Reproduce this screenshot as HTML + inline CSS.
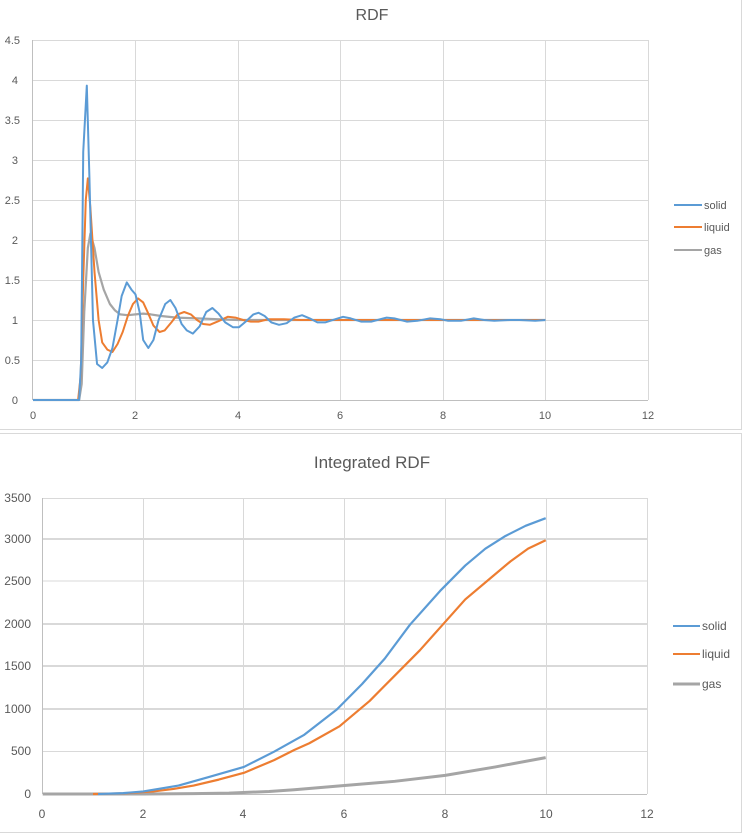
<!DOCTYPE html>
<html><head><meta charset="utf-8"><style>
html,body{margin:0;padding:0;background:#fff;width:744px;height:834px;overflow:hidden}
svg{display:block}
text{font-family:"Liberation Sans Narrow","Liberation Sans",sans-serif;fill:#595959}
</style></head><body>
<svg width="744" height="834" viewBox="0 0 744 834">
<rect x="0" y="0" width="744" height="834" fill="#fff"/>
<!-- chart borders -->
<line x1="0" y1="429.5" x2="742" y2="429.5" stroke="#d9d9d9"/>
<line x1="741.5" y1="0" x2="741.5" y2="429.5" stroke="#d9d9d9"/>
<line x1="0" y1="433.5" x2="742" y2="433.5" stroke="#d9d9d9"/>
<line x1="741.5" y1="433.5" x2="741.5" y2="833" stroke="#d9d9d9"/>
<line x1="0" y1="832.5" x2="742" y2="832.5" stroke="#d9d9d9"/>

<!-- ===== RDF ===== -->
<text x="372" y="20" font-size="16" text-anchor="middle">RDF</text>
<g stroke="#d9d9d9" stroke-width="1">
<line x1="33" y1="40.5" x2="648" y2="40.5"/><line x1="33" y1="80.5" x2="648" y2="80.5"/>
<line x1="33" y1="120.5" x2="648" y2="120.5"/><line x1="33" y1="160.5" x2="648" y2="160.5"/>
<line x1="33" y1="200.5" x2="648" y2="200.5"/><line x1="33" y1="240.5" x2="648" y2="240.5"/>
<line x1="33" y1="280.5" x2="648" y2="280.5"/><line x1="33" y1="320.5" x2="648" y2="320.5"/>
<line x1="33" y1="360.5" x2="648" y2="360.5"/>
<line x1="135.5" y1="40" x2="135.5" y2="400"/><line x1="238.5" y1="40" x2="238.5" y2="400"/>
<line x1="340.5" y1="40" x2="340.5" y2="400"/><line x1="443.5" y1="40" x2="443.5" y2="400"/>
<line x1="545.5" y1="40" x2="545.5" y2="400"/><line x1="648.5" y1="40" x2="648.5" y2="400"/>
</g>
<line x1="33" y1="400.5" x2="648" y2="400.5" stroke="#bfbfbf"/>
<line x1="32.5" y1="40" x2="32.5" y2="400" stroke="#bfbfbf"/>
<g font-size="11" text-anchor="end">
<text x="20" y="44">4.5</text><text x="18" y="84">4</text><text x="20" y="124">3.5</text>
<text x="18" y="164">3</text><text x="20" y="204">2.5</text><text x="18" y="244">2</text>
<text x="20" y="284">1.5</text><text x="18" y="324">1</text><text x="20" y="364">0.5</text>
<text x="18" y="404">0</text>
</g>
<g font-size="11" text-anchor="middle">
<text x="33" y="419">0</text><text x="135" y="419">2</text><text x="238" y="419">4</text>
<text x="340" y="419">6</text><text x="443" y="419">8</text><text x="545" y="419">10</text><text x="648" y="419">12</text>
</g>
<g transform="translate(33,400) scale(51.25,-80)" fill="none" stroke-linejoin="round">
<polyline vector-effect="non-scaling-stroke" stroke="#a5a5a5" stroke-width="2.2" points="0,0 0.9,0 0.95,0.2 1.0,1.1 1.07,1.9 1.12,2.08 1.2,1.9 1.28,1.6 1.38,1.38 1.5,1.2 1.6,1.12 1.7,1.07 1.85,1.06 2.0,1.07 2.15,1.08 2.3,1.07 2.5,1.05 2.8,1.03 3.2,1.02 3.6,1.01 4,1.0 10,1.0"/>
<polyline vector-effect="non-scaling-stroke" stroke="#ed7d31" stroke-width="2" points="0,0 0.88,0 0.93,0.3 0.98,1.5 1.03,2.5 1.07,2.77 1.12,2.4 1.2,1.6 1.28,1.0 1.35,0.72 1.45,0.63 1.55,0.6 1.65,0.7 1.75,0.85 1.85,1.05 1.95,1.2 2.05,1.27 2.15,1.22 2.25,1.08 2.35,0.93 2.47,0.85 2.57,0.87 2.7,0.97 2.82,1.07 2.95,1.1 3.08,1.07 3.2,1.0 3.32,0.95 3.45,0.94 3.6,0.98 3.8,1.04 3.95,1.03 4.1,1.0 4.25,0.98 4.4,0.98 4.6,1.01 4.9,1.01 5.2,1.0 5.6,1.0 6.2,1.0 10,1.0"/>
<polyline vector-effect="non-scaling-stroke" stroke="#5b9bd5" stroke-width="2" points="0,0 0.9,0 0.94,0.5 0.98,3.1 1.05,3.93 1.1,2.8 1.17,1.0 1.25,0.45 1.35,0.4 1.45,0.47 1.55,0.65 1.65,1.0 1.73,1.3 1.83,1.47 1.92,1.38 2.0,1.32 2.08,1.1 2.15,0.75 2.25,0.65 2.35,0.75 2.45,1.0 2.58,1.2 2.68,1.25 2.78,1.15 2.9,0.95 3.0,0.87 3.12,0.83 3.25,0.92 3.38,1.1 3.5,1.15 3.62,1.08 3.75,0.97 3.9,0.91 4.02,0.91 4.15,0.98 4.3,1.07 4.4,1.09 4.52,1.05 4.65,0.97 4.8,0.94 4.95,0.96 5.1,1.03 5.25,1.06 5.4,1.02 5.55,0.97 5.7,0.97 5.9,1.01 6.05,1.04 6.2,1.02 6.4,0.98 6.6,0.98 6.9,1.03 7.05,1.02 7.3,0.98 7.5,0.99 7.75,1.02 7.95,1.01 8.1,0.99 8.35,0.99 8.6,1.02 8.8,1.0 9.0,0.99 9.3,1.0 9.5,1.0 9.8,0.99 10,1.0"/>
</g>
<line x1="674" y1="205" x2="702" y2="205" stroke="#5b9bd5" stroke-width="2"/>
<line x1="674" y1="227" x2="702" y2="227" stroke="#ed7d31" stroke-width="2"/>
<line x1="674" y1="250" x2="702" y2="250" stroke="#a5a5a5" stroke-width="2"/>
<g font-size="11"><text x="704" y="209">solid</text><text x="704" y="231">liquid</text><text x="704" y="254">gas</text></g>

<!-- ===== Integrated RDF ===== -->
<text x="372" y="468" font-size="17" text-anchor="middle">Integrated RDF</text>
<g stroke="#d9d9d9">
<line x1="43" y1="498.5" x2="647" y2="498.5" stroke-width="1"/>
<line x1="43" y1="539" x2="647" y2="539" stroke-width="2"/>
<line x1="43" y1="581" x2="647" y2="581" stroke-width="1"/>
<line x1="43" y1="624" x2="647" y2="624" stroke-width="2"/>
<line x1="43" y1="666" x2="647" y2="666" stroke-width="2"/>
<line x1="43" y1="709" x2="647" y2="709" stroke-width="2"/>
<line x1="43" y1="751.5" x2="647" y2="751.5" stroke-width="1"/>
<line x1="143.5" y1="498" x2="143.5" y2="794"/><line x1="243.5" y1="498" x2="243.5" y2="794"/>
<line x1="344.5" y1="498" x2="344.5" y2="794"/><line x1="445.5" y1="498" x2="445.5" y2="794"/>
<line x1="546.5" y1="498" x2="546.5" y2="794"/><line x1="647.5" y1="498" x2="647.5" y2="794"/>
</g>
<line x1="43" y1="794.5" x2="647" y2="794.5" stroke="#bfbfbf"/>
<line x1="42.5" y1="498" x2="42.5" y2="794" stroke="#bfbfbf"/>
<g font-size="12" text-anchor="end">
<text x="31" y="502">3500</text><text x="31" y="543">3000</text><text x="31" y="585">2500</text>
<text x="31" y="628">2000</text><text x="31" y="670">1500</text><text x="31" y="713">1000</text>
<text x="31" y="755">500</text><text x="31" y="798">0</text>
</g>
<g font-size="12" text-anchor="middle">
<text x="42" y="818">0</text><text x="143" y="818">2</text><text x="243" y="818">4</text>
<text x="344" y="818">6</text><text x="445" y="818">8</text><text x="546" y="818">10</text><text x="647" y="818">12</text>
</g>
<g transform="translate(42.7,794) scale(50.3,-0.0846)" fill="none" stroke-linejoin="round">
<polyline vector-effect="non-scaling-stroke" stroke="#a5a5a5" stroke-width="3" points="0,0 2,0 3,5 3.7,10 4.5,30 5,50 6,100 7,150 8,220 9,320 10,430"/>
<polyline vector-effect="non-scaling-stroke" stroke="#ed7d31" stroke-width="2.2" points="1,0 1.6,8 2.2,30 2.6,60 3,100 3.5,170 4,250 4.6,400 5,520 5.3,600 5.9,800 6.5,1100 7,1400 7.5,1700 7.95,2000 8.4,2300 8.9,2550 9.3,2750 9.65,2900 10,3000"/>
<polyline vector-effect="non-scaling-stroke" stroke="#5b9bd5" stroke-width="2.2" points="1.1,0 1.6,10 2,30 2.7,100 3.3,200 4,320 4.6,500 5.2,700 5.85,1000 6.35,1300 6.8,1600 7.3,2000 7.9,2400 8.4,2700 8.8,2900 9.2,3050 9.6,3170 10,3260"/>
</g>
<line x1="673" y1="626" x2="700" y2="626" stroke="#5b9bd5" stroke-width="2"/>
<line x1="673" y1="654" x2="700" y2="654" stroke="#ed7d31" stroke-width="2"/>
<line x1="673" y1="684" x2="700" y2="684" stroke="#a5a5a5" stroke-width="3"/>
<g font-size="12"><text x="702" y="630">solid</text><text x="702" y="658">liquid</text><text x="702" y="688">gas</text></g>
</svg>
</body></html>
